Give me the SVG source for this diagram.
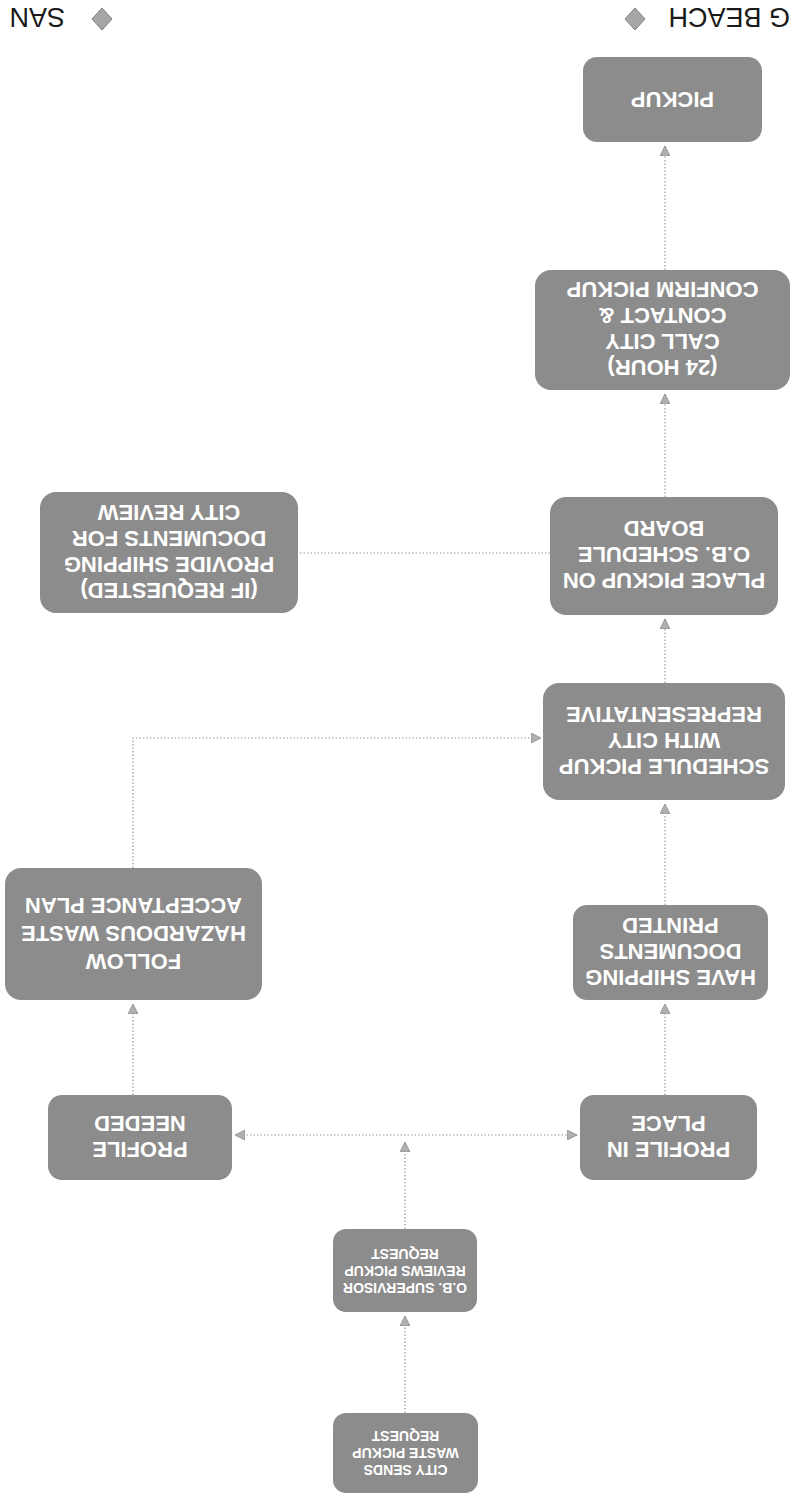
<svg xmlns="http://www.w3.org/2000/svg" width="793" height="1505" viewBox="0 0 793 1505">
<style>
.node rect{fill:#8c8c8c;}
.node text{fill:#ffffff;font-family:"Liberation Sans",Arial,sans-serif;font-weight:bold;font-size:22px;text-anchor:middle;}
.node.small text{font-size:14px;}
.conn path{fill:none;stroke:#9a9a9a;stroke-width:1.2;stroke-dasharray:1.5 2;}
.title{font-family:"Liberation Sans",Arial,sans-serif;font-size:27px;fill:#1a1a1a;}
.dia{fill:#a6a6a6;stroke:#808080;stroke-width:1;}
</style>
<defs>
<marker id="arr" viewBox="0 0 10 10" refX="10" refY="5" markerWidth="10" markerHeight="10" markerUnits="userSpaceOnUse" orient="auto-start-reverse">
<path d="M0,0 L10,5 L0,10 Z" fill="#b0b0b0" stroke="#8a8a8a" stroke-width="0.8"/>
</marker>
</defs>
<rect width="793" height="1505" fill="#ffffff"/>
<g transform="rotate(180 396.5 752.5)">
<g id="legend">
<text class="title" x="3" y="1497">G BEACH</text>
<path class="dia" d="M158,1475 L168,1486 L158,1497 L148,1486 Z"/>
<path class="dia" d="M691,1475 L701,1486 L691,1497 L681,1486 Z"/>
<text class="title" x="728" y="1497">SAN</text>
</g>
<g class="conn" id="connectors">
<path d="M388,92 V189" marker-end="url(#arr)"/>
<path d="M388,276 V363" marker-end="url(#arr)"/>
<path d="M216,370 H558" marker-start="url(#arr)" marker-end="url(#arr)"/>
<path d="M128,410 V501" marker-end="url(#arr)"/>
<path d="M660,410 V501" marker-end="url(#arr)"/>
<path d="M128,600 V701" marker-end="url(#arr)"/>
<path d="M660,637 V767 H252" marker-end="url(#arr)"/>
<path d="M128,822 V886" marker-end="url(#arr)"/>
<path d="M243,952 H495"/>
<path d="M128,1008 V1111" marker-end="url(#arr)"/>
<path d="M128,1235 V1359" marker-end="url(#arr)"/>
</g>
<g class="node small" id="n-city-sends">
<rect x="315" y="12" width="145" height="80" rx="13"/>
<text x="387.5" y="40">CITY SENDS</text>
<text x="387.5" y="57">WASTE PICKUP</text>
<text x="387.5" y="74">REQUEST</text>
</g>
<g class="node small" id="n-supervisor">
<rect x="316" y="193" width="144" height="83" rx="13"/>
<text x="388" y="222">O.B. SUPERVISOR</text>
<text x="388" y="239">REVIEWS PICKUP</text>
<text x="388" y="256">REQUEST</text>
</g>
<g class="node" id="n-profile-in-place">
<rect x="36" y="325" width="177" height="85" rx="14"/>
<text x="124.5" y="363">PROFILE IN</text>
<text x="124.5" y="389">PLACE</text>
</g>
<g class="node" id="n-profile-needed">
<rect x="561" y="325" width="184" height="85" rx="14"/>
<text x="653" y="363">PROFILE</text>
<text x="653" y="389">NEEDED</text>
</g>
<g class="node" id="n-have-shipping">
<rect x="25" y="505" width="195" height="95" rx="14"/>
<text x="122.5" y="535">HAVE SHIPPING</text>
<text x="122.5" y="561">DOCUMENTS</text>
<text x="122.5" y="587">PRINTED</text>
</g>
<g class="node" id="n-follow">
<rect x="531" y="505" width="257" height="132" rx="16"/>
<text x="659.5" y="551">FOLLOW</text>
<text x="659.5" y="579">HAZARDOUS WASTE</text>
<text x="659.5" y="607">ACCEPTANCE PLAN</text>
</g>
<g class="node" id="n-schedule">
<rect x="8" y="705" width="242" height="117" rx="16"/>
<text x="129" y="746">SCHEDULE PICKUP</text>
<text x="129" y="772">WITH CITY</text>
<text x="129" y="798">REPRESENTATIVE</text>
</g>
<g class="node" id="n-place">
<rect x="15" y="890" width="228" height="118" rx="16"/>
<text x="129" y="932">PLACE PICKUP ON</text>
<text x="129" y="958">O.B. SCHEDULE</text>
<text x="129" y="984">BOARD</text>
</g>
<g class="node" id="n-if-requested">
<rect x="495" y="892" width="258" height="121" rx="16"/>
<text x="624" y="922.5">(IF REQUESTED)</text>
<text x="624" y="948.5">PROVIDE SHIPPING</text>
<text x="624" y="974.5">DOCUMENTS FOR</text>
<text x="624" y="1000.5">CITY REVIEW</text>
</g>
<g class="node" id="n-call-city">
<rect x="3" y="1115" width="255" height="120" rx="16"/>
<text x="130.5" y="1145">(24 HOUR)</text>
<text x="130.5" y="1171">CALL CITY</text>
<text x="130.5" y="1197">CONTACT &amp;</text>
<text x="130.5" y="1223">CONFIRM PICKUP</text>
</g>
<g class="node" id="n-pickup">
<rect x="31" y="1363" width="179" height="85" rx="14"/>
<text x="120.5" y="1413">PICKUP</text>
</g>
</g>
</svg>
